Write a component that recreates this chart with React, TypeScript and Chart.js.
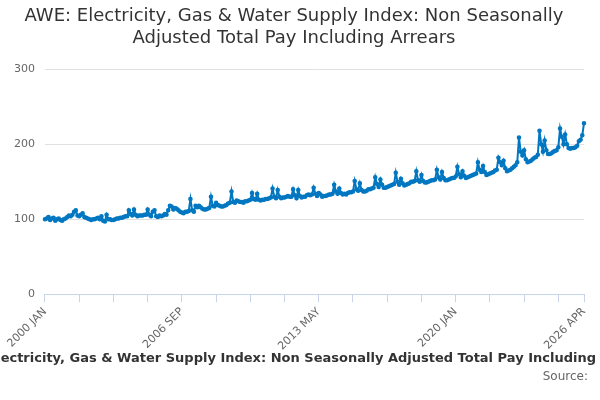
import React, { useEffect, useRef } from "react";
import { Chart, registerables } from "chart.js";
Chart.register(...registerables);

const title = ["AWE: Electricity, Gas & Water Supply Index: Non Seasonally", "Adjusted Total Pay Including Arrears"];
const footer = "AWE: Electricity, Gas & Water Supply Index: Non Seasonally Adjusted Total Pay Including Arrears";
const source = "Source:";
const monthNames = ["JAN","FEB","MAR","APR","MAY","JUN","JUL","AUG","SEP","OCT","NOV","DEC"];
const startYear = 2000;
const yearValues: number[][] = [
  [100,101,103,99,101,102,98,100,101,99,98,100],
  [101,103,105,104,106,110,112,105,104,106,108,103],
  [102,101,100,99,100,100,101,102,100,104,98,97],
  [106,100,100,99,99,100,101,101,102,102,103,104],
  [104,112,107,105,113,106,104,105,105,105,106,106],
  [113,106,104,110,112,104,103,105,104,105,107,106],
  [112,118,117,113,115,114,112,110,109,108,110,110],
  [111,127,112,110,118,116,118,116,114,113,113,114],
  [115,130,118,117,122,119,118,117,117,118,119,121],
  [122,137,123,122,125,124,123,123,122,124,124,125],
  [126,135,127,126,134,126,125,126,126,127,127,128],
  [129,141,130,128,139,130,128,129,129,130,131,130],
  [130,140,132,128,139,131,129,130,130,132,133,132],
  [133,142,134,131,135,133,130,131,131,132,133,133],
  [134,146,137,134,141,135,133,134,133,135,136,136],
  [137,151,140,138,148,139,137,137,138,140,140,141],
  [142,156,147,143,153,146,142,142,143,144,145,146],
  [147,162,150,146,154,148,145,146,147,148,150,150],
  [151,164,152,150,159,151,149,149,150,151,152,152],
  [153,166,156,153,163,155,152,152,153,154,155,155],
  [157,170,160,156,164,158,155,156,157,158,159,160],
  [161,176,166,163,171,163,159,160,161,162,163,165],
  [166,182,176,172,178,168,164,165,166,168,170,172],
  [176,209,190,185,192,180,176,177,178,180,182,183],
  [186,218,200,190,205,192,187,187,188,190,191,192],
  [196,221,210,200,213,200,195,194,195,195,196,198],
  [204,206,212,228],
];
const values: number[] = yearValues.flat();
const labels: string[] = values.map((_, i) => `${startYear + Math.floor(i / 12)} ${monthNames[i % 12]}`);

export default function App() {
  const ref = useRef<HTMLCanvasElement>(null);
  useEffect(() => {
    document.body.style.margin = "0";
    const last = labels.length - 1;
    const textPlugin = {
      id: "texts",
      afterDraw(chart: any) {
        const ctx = chart.ctx;
        ctx.save();
        ctx.fillStyle = "#333";
        ctx.textAlign = "center";
        ctx.font = "bold 13px 'DejaVu Sans'";
        ctx.fillText(footer, 300, 362);
        ctx.font = "12px 'DejaVu Sans'";
        ctx.fillStyle = "#666";
        ctx.textAlign = "right";
        ctx.fillText(source, 588, 380);
        ctx.restore();
      },
    };
    const chart = new Chart(ref.current!, {
      type: "line",
      data: {
        labels,
        datasets: [{
          data: values,
          borderColor: "#0077c0",
          backgroundColor: "#0077c0",
          borderWidth: 2,
          pointRadius: 1.3,
          pointHoverRadius: 2,
          tension: 0,
        }],
      },
      options: {
        animation: false,
        responsive: false,
        layout: { padding: { left: 4, right: 16, top: 0, bottom: 44 } },
        plugins: {
          legend: { display: false },
          tooltip: { enabled: false },
          title: {
            display: true,
            text: title,
            color: "#333",
            font: { family: "'DejaVu Sans'", size: 18, weight: "normal" },
            padding: { top: 6, bottom: 20 },
          },
        },
        scales: {
          x: {
            afterBuildTicks(axis: any) {
              axis.ticks = axis.ticks.filter((t: any) => t.value % 20 === 0 || t.value === last);
            },
            ticks: {
              autoSkip: false,
              maxRotation: 45,
              minRotation: 45,
              color: "#666",
              font: { family: "'DejaVu Sans'", size: 11 },
              callback(v: any) {
                const i = Number(v);
                return i % 80 === 0 || i === last ? labels[i] : "";
              },
            },
            grid: { display: true, drawOnChartArea: false, drawTicks: true, tickLength: 8, color: "#c8d4e8" },
            border: { color: "#c8d4e8" },
          },
          y: {
            min: 0,
            max: 300,
            ticks: { stepSize: 100, color: "#666", font: { family: "'DejaVu Sans'", size: 11 }, padding: 10 },
            grid: { color: "#e0e0e0", drawTicks: false },
            border: { display: false },
          },
        },
      },
      plugins: [textPlugin],
    });
    return () => chart.destroy();
  }, []);
  return <canvas ref={ref} width={600} height={400} style={{ display: "block" }} />;
}
